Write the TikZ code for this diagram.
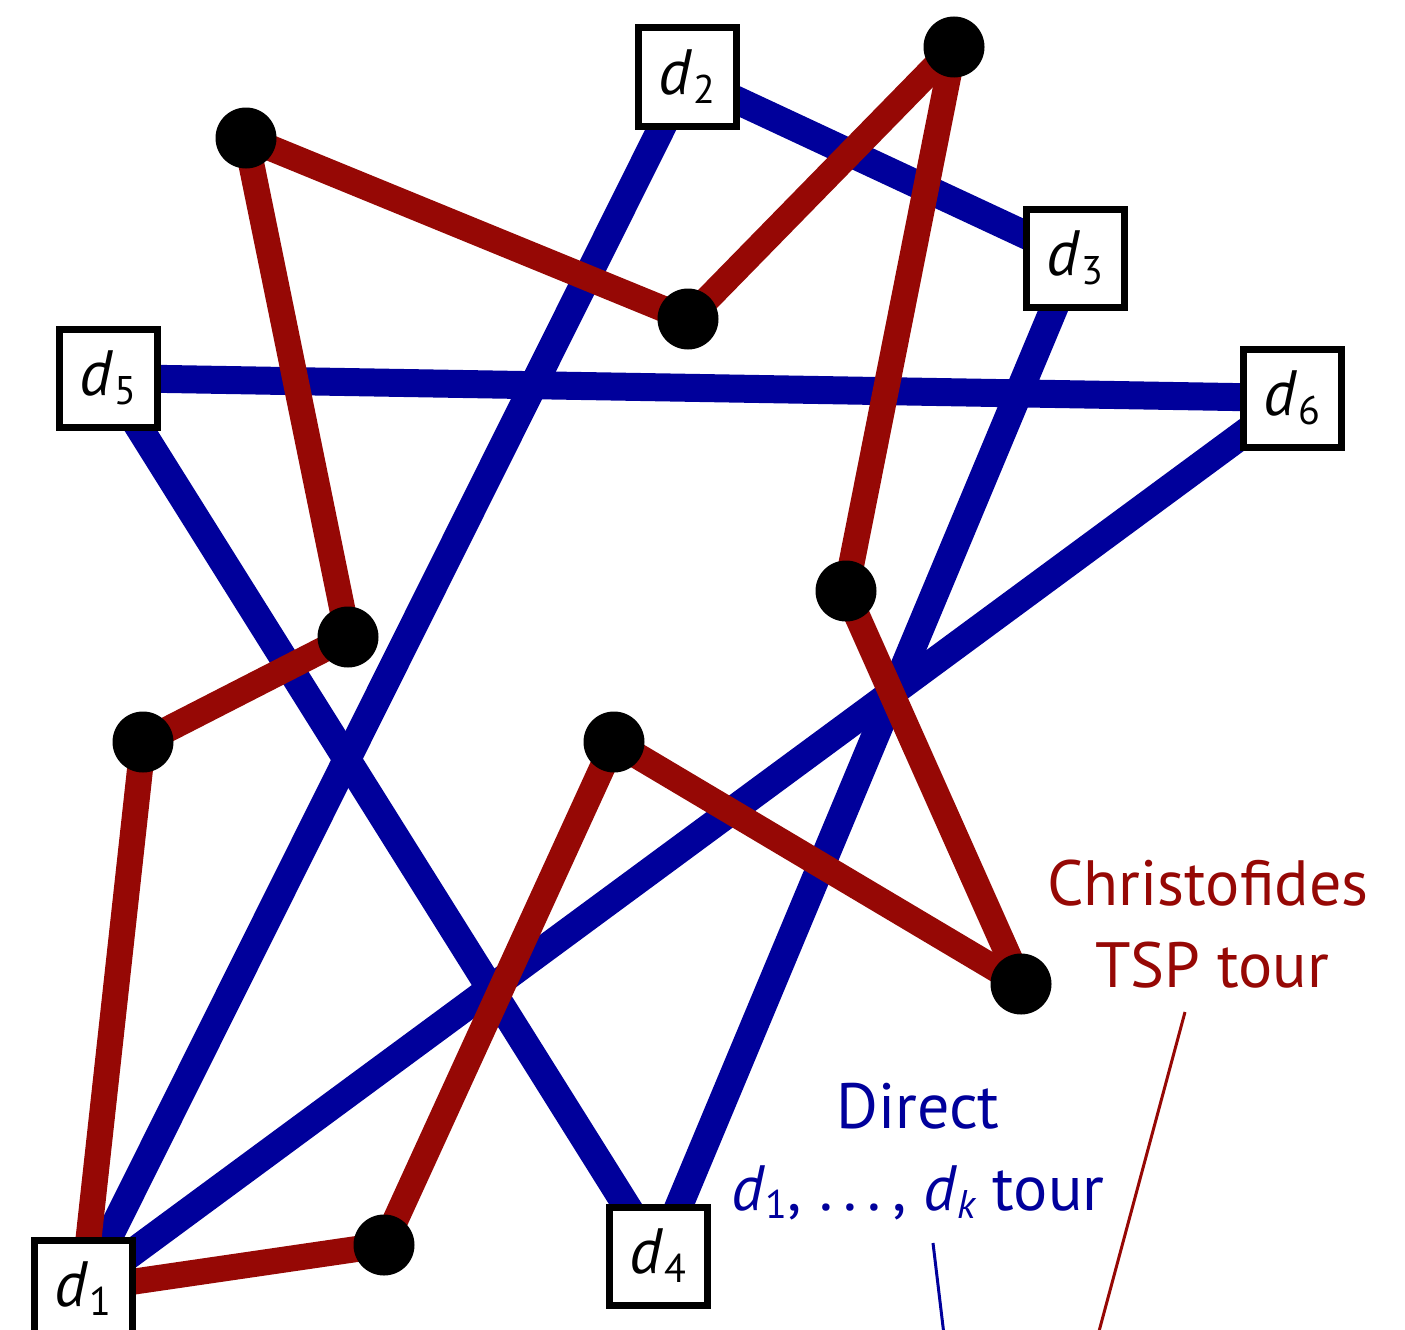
\documentclass[tikz,border=0pt]{standalone}
\usepackage{fontspec}
\setmainfont{PT Sans}
\usetikzlibrary{backgrounds}
\definecolor{tblue}{RGB}{0,0,155}
\definecolor{tred}{RGB}{150,8,5}
\newcommand\subnum[1]{\raisebox{-0.14em}{\fontsize{40}{40}\selectfont #1}}
\newcommand\dsub[1]{\textit{d}\kern0.01em\subnum{#1}}
\tikzset{
  dbox/.style={draw=black, fill=white, line width=7pt, minimum size=98pt, inner sep=0pt, font=\fontsize{64}{64}\selectfont},
  dot/.style={circle, fill=black, minimum size=61pt, inner sep=0pt},
  blueedge/.style={draw=tblue, line width=28pt},
  rededge/.style={draw=tred, line width=26pt},
  lbl/.style={font=\fontsize{64}{64}\selectfont, inner sep=0pt, anchor=base},
  leader/.style={line width=3pt}
}
\begin{document}
\begin{tikzpicture}[x=1pt,y=-1pt]
\useasboundingbox (0,0) rectangle (1405,1330);
\clip (0,0) rectangle (1405,1330);
% dots
\node[dot] (p1) at (384,1245) {};
\node[dot] (p2) at (614,742) {};
\node[dot] (p3) at (1021,984) {};
\node[dot] (p4) at (846,591) {};
\node[dot] (p5) at (954,47) {};
\node[dot] (p6) at (688,319) {};
\node[dot] (p7) at (246,138) {};
\node[dot] (p8) at (348,637) {};
\node[dot] (p9) at (143,742) {};
% boxes
\node[dbox] (d1) at (83,1289) {\dsub{1}};
\node[dbox] (d2) at (687,77) {\dsub{2}};
\node[dbox] (d3) at (1075,258) {\dsub{3}};
\node[dbox] (d4) at (658,1256) {\dsub{4}};
\node[dbox] (d5) at (108,378) {\dsub{5}};
\node[dbox] (d6) at (1292,398) {\dsub{6}};
\begin{pgfonlayer}{background}
\draw[blueedge] (d1.center) -- (d2.center);
\draw[blueedge] (d2.center) -- (d3.center);
\draw[blueedge] (d3.center) -- (d4.center);
\draw[blueedge] (d4.center) -- (d5.center);
\draw[blueedge] (d5.center) -- (d6.center);
\draw[blueedge] (d6.center) -- (d1.center);
\draw[rededge] (d1.center) -- (p1.center);
\draw[rededge] (p1.center) -- (p2.center);
\draw[rededge] (p2.center) -- (p3.center);
\draw[rededge] (p3.center) -- (p4.center);
\draw[rededge] (p4.center) -- (p5.center);
\draw[rededge] (p5.center) -- (p6.center);
\draw[rededge] (p6.center) -- (p7.center);
\draw[rededge] (p7.center) -- (p8.center);
\draw[rededge] (p8.center) -- (p9.center);
\draw[rededge] (p9.center) -- (d1.center);
\end{pgfonlayer}
% labels
\node[lbl, text=tred] (c1) at (1208,905) {Christofides};
\node[lbl, text=tred] (c2) at (1212,987) {TSP tour};
\node[lbl, text=tblue] (b1) at (918,1128) {Direct};
\node[lbl, text=tblue] (b2) at (918,1210) {\textit{d}\subnum{1}, .\,.\,.\,, \textit{d}\subnum{\itshape k} tour};
\coordinate (rt) at (1185,1012);
\coordinate (rb) at (1098,1335);
\coordinate (bt) at (933,1243);
\coordinate (bb) at (944,1335);
\draw[leader, tred] (rt) -- (rb);
\draw[leader, tblue] (bt) -- (bb);
\end{tikzpicture}
\end{document}
